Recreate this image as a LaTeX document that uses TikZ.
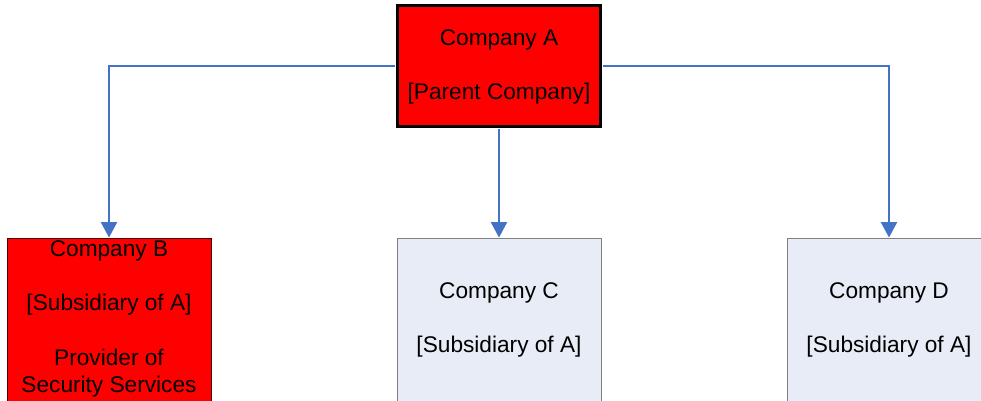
\documentclass[tikz,border=0pt]{standalone}
\usepackage{fontspec}
\setmainfont{Liberation Sans}
\usetikzlibrary{arrows.meta}
\definecolor{connblue}{HTML}{4472C4}
\definecolor{paleblue}{HTML}{E8ECF6}
\definecolor{boxgray}{HTML}{808080}
\tikzset{
  boxbase/.style={rectangle, inner sep=0pt, minimum width=153pt, minimum height=123pt},
  parentbox/.style={boxbase, draw=black, line width=2.25pt, fill=red, minimum width=152.25pt, minimum height=90.75pt,
     align=center, font=\fontsize{17}{20.5}\selectfont},
  redbox/.style={boxbase, draw=black!70!red, line width=0.75pt, fill=red},
  subbox/.style={boxbase, draw=boxgray, line width=0.75pt, fill=paleblue},
  boxtext/.style={align=center, inner sep=0pt, font=\fontsize{17}{20.5}\selectfont},
  conn/.style={draw=connblue, line width=1.5pt, shorten <=0.8pt, -{Triangle[width=12pt,length=11.5pt]}}
}
\begin{document}
\begin{tikzpicture}[x=0.75pt,y=-0.75pt]
\clip (0,0) rectangle (981,400);
\fill[white] (0,0) rectangle (981,400);
% boxes
\node[redbox] (b) at (109,320) {};
\node[subbox] (c) at (499,320) {};
\node[subbox] (d) at (889,320) {};
\node[parentbox] (a) at (499,66) {};
\node[boxtext] (at) at (499,67) {Company A\\ \mbox{}\\ {[Parent Company]}};
% connectors
\draw[conn] (a.west) -| (b.north);
\draw[conn] (a.south) -- (c.north);
\draw[conn] (a.east) -| (d.north);
% texts
\node[boxtext] (bt) at (109,319) {Company B\\ \mbox{}\\ {[Subsidiary of A]}\\ \mbox{}\\ Provider of\\ Security Services};
\node[boxtext] (ct) at (499,320) {Company C\\ \mbox{}\\ {[Subsidiary of A]}};
\node[boxtext] (dt) at (889,320) {Company D\\ \mbox{}\\ {[Subsidiary of A]}};
\end{tikzpicture}
\end{document}
